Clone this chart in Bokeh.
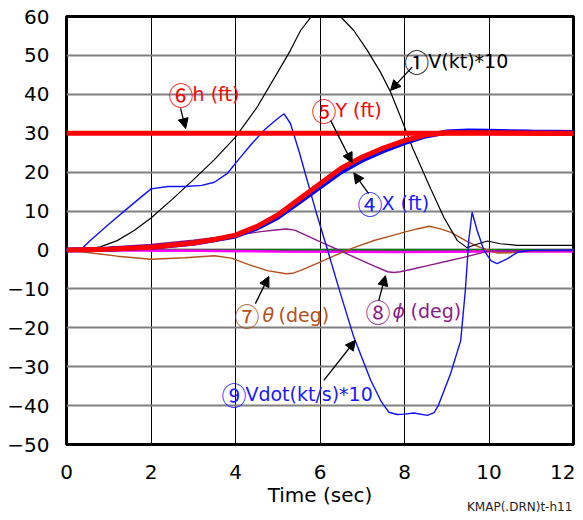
from bokeh.plotting import figure
from bokeh.models import Range1d, FixedTicker, Label, Arrow, NormalHead, Div
from bokeh.layouts import column
from bokeh.embed import file_html
from bokeh.resources import INLINE

# ---- data ----
t_v = [0, 0.4, 0.8, 1.2, 1.6, 2.0, 2.5, 3.0, 3.5, 4.0, 4.5, 5.07, 5.3, 5.54, 5.78, 6.0, 6.15, 6.3, 6.5, 6.8,
       7.12, 7.43, 7.67, 7.91, 8.2, 8.62, 8.93, 9.25, 9.48, 9.64, 9.96, 10.27, 10.67, 12]
v_kt10 = [0, 0.1, 0.8, 2.4, 5.0, 8.2, 13.0, 18.0, 23.2, 29.0, 36.5, 47.0, 51.3, 56.4, 59.8, 61.3, 61.6, 61.2, 59.8, 56.4,
          51.3, 45.7, 40.6, 34.1, 26.0, 15.7, 8.4, 2.4, 0.6, 1.2, 2.3, 1.6, 1.2, 1.2]

t_vdot = [0, 0.35, 0.55, 1.0, 1.5, 2.0, 2.4, 2.8, 3.2, 3.5, 3.8, 4.1, 4.4, 4.7, 5.0, 5.15, 5.3, 5.5, 5.93, 6.17,
          6.45, 6.8, 7.2, 7.45, 7.63, 7.83, 8.0, 8.22, 8.54, 8.7, 8.8, 9.09, 9.33, 9.44, 9.52, 9.6, 9.72, 9.88,
          10.05, 10.19, 10.43, 10.67, 11, 12]
vdot10 = [0, 0.2, 2.3, 6.6, 11.2, 15.7, 16.3, 16.3, 16.6, 17.4, 19.6, 23.6, 27.5, 31.0, 33.8, 35.0, 32.5, 25.5, 8.9, 0.3,
          -10.0, -22.4, -33.5, -39.0, -41.7, -42.3, -42.2, -41.9, -42.5, -41.8, -40.0, -31.8, -23.3, -10.4, 2.4, 9.7, 5.0, -0.1,
          -2.8, -3.5, -2.3, -0.6, -0.1, 0]

t_xy = [0, 1, 2, 3, 3.5, 4, 4.5, 5, 5.5, 6, 6.5, 7, 7.5, 8, 8.5, 9, 9.5, 10, 11, 12]
y_ft = [0, 0.2, 0.7, 1.8, 2.7, 3.8, 6.0, 9.0, 13.0, 17.0, 21.0, 23.9, 26.2, 28.1, 29.6, 30.1, 30.1, 30.1, 30.0, 29.9]
x_ft = [0, 0.2, 0.7, 1.7, 2.6, 3.6, 5.6, 8.4, 12.3, 16.2, 20.1, 23.1, 25.5, 27.6, 29.3, 30.3, 30.6, 30.5, 30.3, 30.2]

t_h = [0, 12]
h_ft = [30, 30]

t_phi = [0, 1, 2, 3, 4, 4.6, 5.0, 5.2, 5.4, 5.7, 6.1, 6.5, 6.9, 7.3, 7.6, 7.75, 7.9, 8.2, 8.6, 9.0, 9.4, 9.8,
         10.0, 10.5, 12]
phi_deg = [0, 0.7, 1.4, 2.5, 3.8, 4.7, 5.2, 5.4, 5.1, 3.6, 1.6, -0.3, -2.3, -4.2, -5.6, -5.8, -5.6, -4.9, -3.9, -2.9,
           -1.9, -0.8, -0.3, -0.2, -0.2]

t_theta = [0, 0.6, 1.2, 2.0, 2.8, 3.5, 3.9, 4.3, 4.75, 5.2, 5.35, 5.6, 6.0, 6.4, 6.8, 7.3, 7.7, 8.0, 8.3, 8.58,
           8.85, 9.1, 9.5, 9.8, 10.0, 10.2, 10.5, 11, 12]
theta_deg = [0, -0.8, -1.6, -2.4, -2.0, -1.5, -2.1, -3.7, -5.3, -6.1, -6.0, -5.0, -3.1, -1.2, 0.6, 2.5, 3.7, 4.6, 5.4, 6.1,
             5.4, 4.5, 2.1, 0.6, -0.1, -0.8, -0.7, -0.2, 0]

t_green = [0, 12]
green_v = [0, 0]
t_mag = [0, 3, 5, 8, 10, 12]
mag_v = [-0.1, -0.2, -0.4, -0.5, -0.4, -0.4]

x_ticks = [0, 2, 4, 6, 8, 10, 12]
y_ticks = [-50, -40, -30, -20, -10, 0, 10, 20, 30, 40, 50, 60]
y_tick_labels = ["\u221250", "\u221240", "\u221230", "\u221220", "\u221210", "0", "10", "20", "30", "40", "50", "60"]

TICKFONT = "DejaVu Sans"
CJK = "Noto Sans CJK JP"

p = figure(width=575, height=512, output_backend="svg", toolbar_location=None,
           x_range=Range1d(0, 12), y_range=Range1d(-50, 60),
           min_border_left=66, min_border_right=2, min_border_top=16, min_border_bottom=68)
p.background_fill_color = "white"
p.border_fill_color = "white"
p.outline_line_color = "black"
p.outline_line_width = 3

p.xaxis.ticker = FixedTicker(ticks=x_ticks)
p.yaxis.ticker = FixedTicker(ticks=y_ticks)
p.yaxis.major_label_overrides = {v: s for v, s in zip(y_ticks, y_tick_labels)}
for ax in (p.xaxis, p.yaxis):
    ax.axis_line_color = None
    ax.major_tick_in = 0
    ax.major_tick_out = 0
    ax.minor_tick_in = 0
    ax.minor_tick_out = 0
    ax.major_label_text_font = TICKFONT
    ax.major_label_text_font_size = "20px"
    ax.major_label_text_color = "black"
p.xaxis.major_label_standoff = 20
p.yaxis.major_label_standoff = 17
p.xaxis.axis_label = "Time (sec)"
p.xaxis.axis_label_text_font = TICKFONT
p.xaxis.axis_label_text_font_size = "20px"
p.xaxis.axis_label_text_font_style = "normal"
p.xaxis.axis_label_text_color = "black"
p.xaxis.axis_label_standoff = 1

p.xgrid.ticker = FixedTicker(ticks=x_ticks)
p.ygrid.ticker = FixedTicker(ticks=y_ticks)
p.xgrid.grid_line_color = "black"
p.xgrid.grid_line_width = 1
p.ygrid.grid_line_color = "#808080"
p.ygrid.grid_line_width = 2

# ---- lines ----
p.line(t_green, green_v, line_color="#008000", line_width=2)
p.line(t_mag, mag_v, line_color="#FF00FF", line_width=2.5)
p.line(t_theta, theta_deg, line_color="#B5501A", line_width=1.4)
p.line(t_phi, phi_deg, line_color="#8B1A8B", line_width=1.4)
p.line(t_v, v_kt10, line_color="black", line_width=1.2)
p.line(t_vdot, vdot10, line_color="#1010FF", line_width=1.4)
p.line(t_xy, x_ft, line_color="#0000FF", line_width=5)
p.line(t_xy, y_ft, line_color="#FF0000", line_width=5)
p.line(t_h, h_ft, line_color="#FF0000", line_width=5)

# ---- annotations: (circled number, [(text, x offset px, italic)], colour, label pos, arrow start, arrow tip) ----
notes = [
    ("\u2460", [("V(kt)*10", 23, False)], "black", 8.02, 48.5, 8.18, 47.0, 7.67, 41.0),
    ("\u2465", [("h (ft)", 23, False)], "#FF0000", 2.44, 40.0, 2.70, 36.4, 2.82, 31.2),
    ("\u2464", [("Y (ft)", 23, False)], "#FF0000", 5.82, 35.9, 6.25, 33.3, 6.76, 22.4),
    ("\u2463", [("X (ft)", 23, False)], "#1a1aff", 6.91, 12.0, 7.15, 14.5, 6.80, 19.8),
    ("\u2466", [("\u03b8", 27, True), ("(deg)", 43, False)], "#B5501A", 4.00, -16.6, 4.47, -13.8, 4.79, -6.8),
    ("\u2467", [("\u03d5", 26, True), ("(deg)", 44, False)], "#8B1A8B", 7.10, -15.6, 7.39, -13.0, 7.55, -6.6),
    ("\u2468", [("Vdot(kt/s)*10", 23, False)], "#1a1aff", 3.69, -36.9, 6.09, -33.5, 6.84, -23.2),
]
for num, parts, col, lx, ly, x0, y0, x1, y1 in notes:
    p.add_layout(Label(x=lx, y=ly, x_offset=-1, text=num, text_color=col, text_font=CJK, text_font_size="25px",
                       text_align="left", text_baseline="middle"))
    for txt, off, ital in parts:
        p.add_layout(Label(x=lx, y=ly, x_offset=off, text=txt, text_color=col, text_font=TICKFONT,
                           text_font_size="19px", text_font_style="italic" if ital else "normal",
                           text_align="left", text_baseline="middle"))
    p.add_layout(Arrow(x_start=x0, y_start=y0, x_end=x1, y_end=y1, line_color="black", line_width=1.3,
                       end=NormalHead(size=10, fill_color="black", line_color="black", line_width=1)))

note = Div(text="KMAP(.DRN)t-h11", width=112, height=14, margin=(-12, 0, 0, 467),
           styles={"font-family": "DejaVu Sans", "font-size": "12px", "color": "#222222",
                   "line-height": "14px", "white-space": "nowrap"})

layout = column(p, note, spacing=0)
open("out.html", "w").write(file_html(layout, INLINE))
